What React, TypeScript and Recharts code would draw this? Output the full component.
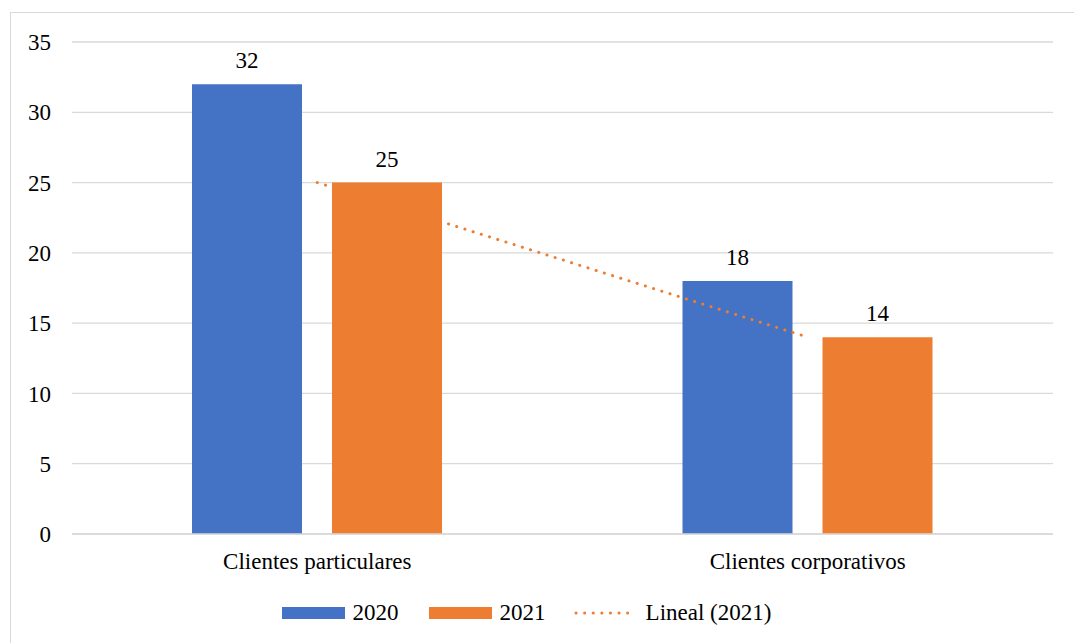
import {
  ComposedChart,
  Bar,
  Line,
  XAxis,
  YAxis,
  CartesianGrid,
  Legend,
  LabelList,
} from "recharts";

const categories = ["Clientes particulares", "Clientes corporativos"];
const values2020 = [32, 18];
const values2021 = [25, 14];
const trend2021 = [25, 14];
const yTicks = [0, 5, 10, 15, 20, 25, 30, 35];

const BLUE = "#4472C4";
const ORANGE = "#ED7D31";
const GRID = "#d9d9d9";
const FONT = "Liberation Serif, Times New Roman, Tinos, DejaVu Serif, serif";
const FS = 23;

const data = categories.map((name, i) => ({
  name,
  y2020: values2020[i],
  y2021: values2021[i],
  trend: trend2021[i],
}));

function ChartLegend() {
  const text = { fontSize: FS, color: "#000", fontFamily: FONT, lineHeight: "26px" };
  return (
    <div style={{ display: "flex", justifyContent: "center", alignItems: "center", height: 40 }}>
      <span style={{ width: 63, height: 12, background: BLUE, marginRight: 8 }} />
      <span style={{ ...text, marginRight: 30 }}>2020</span>
      <span style={{ width: 63, height: 12, background: ORANGE, marginRight: 8 }} />
      <span style={{ ...text, marginRight: 28 }}>2021</span>
      <svg width={64} height={12} style={{ marginRight: 8 }}>
        <line
          x1={2}
          y1={6}
          x2={62}
          y2={6}
          stroke={ORANGE}
          strokeWidth={3}
          strokeLinecap="round"
          strokeDasharray="0.1 8.5"
        />
      </svg>
      <span style={text}>Lineal (2021)</span>
    </div>
  );
}

export default function App() {
  return (
    <div style={{ position: "absolute", left: 0, top: 0, width: 1074, height: 643, background: "#fff", overflow: "hidden", fontFamily: FONT }}>
      <div
        style={{
          position: "absolute",
          left: 10,
          top: 12,
          width: 1100,
          height: 700,
          border: `1px solid ${GRID}`,
        }}
      />
      <ComposedChart
        width={1074}
        height={643}
        data={data}
        margin={{ top: 42, right: 21, bottom: 10, left: 0 }}
        barSize={110}
        barGap={30}
        style={{ fontFamily: FONT }}
      >
        <CartesianGrid vertical={false} stroke={GRID} strokeWidth={1.3} />
        <XAxis
          dataKey="name"
          height={59}
          axisLine={{ stroke: GRID, strokeWidth: 1.3 }}
          tickLine={false}
          tickSize={0}
          tickMargin={19}
          tick={{ fontSize: FS, fill: "#000", fontFamily: FONT }}
        />
        <YAxis
          width={72}
          domain={[0, 35]}
          ticks={yTicks}
          axisLine={false}
          tickLine={false}
          tickSize={0}
          tickMargin={21}
          tick={{ fontSize: FS, fill: "#000", fontFamily: FONT }}
        />
        <Legend verticalAlign="bottom" height={40} content={() => <ChartLegend />} />
        <Bar dataKey="y2020" fill={BLUE} isAnimationActive={false}>
          <LabelList dataKey="y2020" position="top" offset={16} style={{ fontSize: FS, fill: "#000", fontFamily: FONT }} />
        </Bar>
        <Bar dataKey="y2021" fill={ORANGE} isAnimationActive={false}>
          <LabelList dataKey="y2021" position="top" offset={16} style={{ fontSize: FS, fill: "#000", fontFamily: FONT }} />
        </Bar>
        <Line
          dataKey="trend"
          type="linear"
          stroke={ORANGE}
          strokeWidth={3}
          strokeLinecap="round"
          strokeDasharray="0.1 8.5"
          dot={false}
          activeDot={false}
          isAnimationActive={false}
        />
      </ComposedChart>
    </div>
  );
}
